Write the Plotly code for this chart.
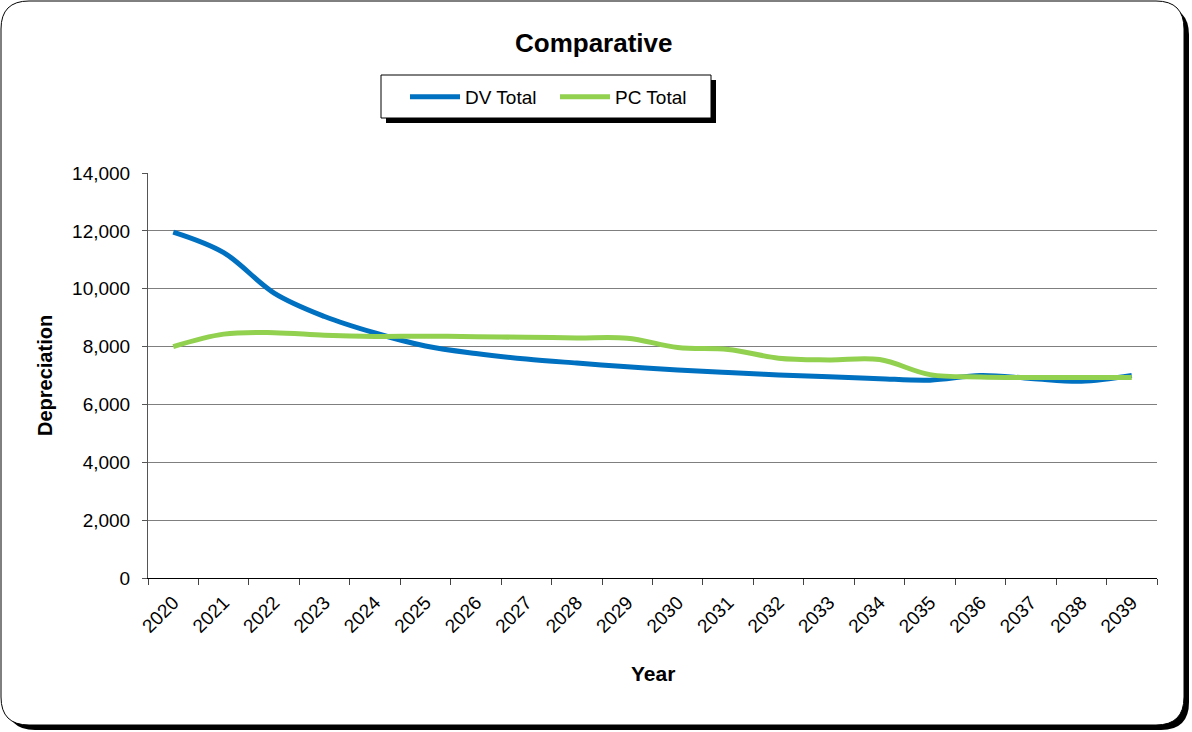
import plotly.graph_objects as go

years = [str(y) for y in range(2020, 2040)]
dv_total = [11960, 11250, 9850, 9040, 8470, 8020, 7760, 7570, 7430, 7300,
            7190, 7100, 7020, 6960, 6890, 6840, 7000, 6900, 6800, 7000]
pc_total = [8000, 8430, 8480, 8390, 8350, 8360, 8340, 8320, 8300, 8290,
            7970, 7900, 7600, 7540, 7550, 7030, 6950, 6930, 6930, 6930]

W, H = 1192, 732
L, R, T, B = 148, 1157, 173, 578

def px(x):
    return (x - L) / (R - L)

def py(y):
    return (B - y) / (B - T)

def rrect(x0, y0, x1, y1, r):
    pts = [
        f"M {px(x0 + r)},{py(y0)}",
        f"L {px(x1 - r)},{py(y0)}",
        f"Q {px(x1)},{py(y0)} {px(x1)},{py(y0 + r)}",
        f"L {px(x1)},{py(y1 - r)}",
        f"Q {px(x1)},{py(y1)} {px(x1 - r)},{py(y1)}",
        f"L {px(x0 + r)},{py(y1)}",
        f"Q {px(x0)},{py(y1)} {px(x0)},{py(y1 - r)}",
        f"L {px(x0)},{py(y0 + r)}",
        f"Q {px(x0)},{py(y0)} {px(x0 + r)},{py(y0)}",
        "Z",
    ]
    return " ".join(pts)

fig = go.Figure()
fig.add_trace(go.Scatter(x=years, y=dv_total, name="DV Total", mode="lines",
                         line=dict(color="#0070C0", width=5, shape="spline", smoothing=1.0)))
fig.add_trace(go.Scatter(x=years, y=pc_total, name="PC Total", mode="lines",
                         line=dict(color="#92D050", width=5, shape="spline", smoothing=1.0)))

shapes = [
    dict(type="path", xref="paper", yref="paper", path=rrect(7, 7, 1189, 730, 28),
         fillcolor="black", line=dict(width=0), layer="below"),
    dict(type="path", xref="paper", yref="paper", path=rrect(1, 1, 1184, 725, 28),
         fillcolor="white", line=dict(color="black", width=1), layer="below"),
    dict(type="rect", xref="paper", yref="paper", x0=px(386), x1=px(716), y0=py(80), y1=py(123),
         fillcolor="black", line=dict(width=0), layer="below"),
    dict(type="rect", xref="paper", yref="paper", x0=px(381), x1=px(711), y0=py(75), y1=py(118),
         fillcolor="white", line=dict(color="black", width=1), layer="below"),
]

annotations = [
    dict(text="<b>Comparative</b>", xref="paper", yref="paper", x=px(594), y=py(43),
         showarrow=False, font=dict(size=26, color="black"), xanchor="center", yanchor="middle"),
    dict(text="<b>Depreciation</b>", xref="paper", yref="paper", x=px(45), y=py(376),
         showarrow=False, textangle=-90, font=dict(size=20, color="black"),
         xanchor="center", yanchor="middle"),
    dict(text="<b>Year</b>", xref="paper", yref="paper", x=px(653), y=py(673),
         showarrow=False, font=dict(size=21, color="black"), xanchor="center", yanchor="middle"),
]

fig.update_layout(
    width=W, height=H,
    margin=dict(l=L, r=W - R, t=T, b=H - B),
    paper_bgcolor="white", plot_bgcolor="white",
    font=dict(family="Liberation Sans, Arial, sans-serif", color="black", size=19),
    shapes=shapes, annotations=annotations,
    showlegend=True,
    legend=dict(orientation="h", x=px(405), y=py(97), xanchor="left", yanchor="middle",
                bgcolor="rgba(0,0,0,0)", borderwidth=0, font=dict(size=19),
                entrywidth=85, entrywidthmode="pixels", itemwidth=50),
)

fig.update_xaxes(
    type="category", range=[-0.5, 19.5], tickson="boundaries",
    ticks="outside", ticklen=6, tickcolor="#444", tickangle=-45,
    showline=True, linecolor="black", linewidth=1, showgrid=False,
    tickfont=dict(size=19), ticklabelstandoff=5,
)
fig.update_yaxes(
    range=[0, 14000], dtick=2000, tickformat=",", ticks="outside", ticklen=5,
    tickcolor="#555", showline=True, linecolor="#555", linewidth=1,
    showgrid=True, gridcolor="#7f7f7f", gridwidth=1, zeroline=False,
    tickfont=dict(size=19), ticklabelstandoff=8,
)

fig.write_html("out.html")
